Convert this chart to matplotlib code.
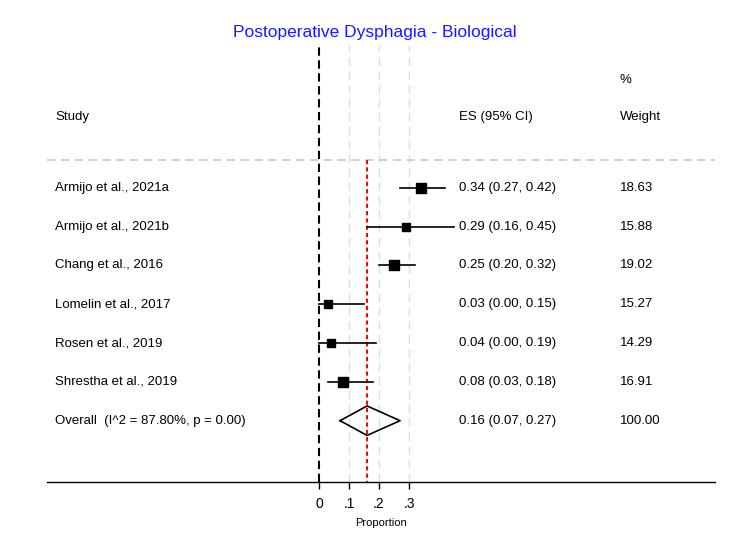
import numpy as np
import matplotlib.pyplot as plt
import matplotlib.transforms as mtransforms

plt.rcParams['font.family'] = ['Liberation Sans', 'DejaVu Sans']

studies = ["Armijo et al., 2021a", "Armijo et al., 2021b", "Chang et al., 2016",
           "Lomelin et al., 2017", "Rosen et al., 2019", "Shrestha et al., 2019"]
es = [0.34, 0.29, 0.25, 0.03, 0.04, 0.08]
lo = [0.27, 0.16, 0.20, 0.00, 0.00, 0.03]
hi = [0.42, 0.45, 0.32, 0.15, 0.19, 0.18]
weight = [18.63, 15.88, 19.02, 15.27, 14.29, 16.91]

overall_label = "Overall  (I^2 = 87.80%, p = 0.00)"
overall_es, overall_lo, overall_hi = 0.16, 0.07, 0.27
overall_weight = 100.00

xticks = [0, 0.1, 0.2, 0.3]
xticklabels = ["0", ".1", ".2", ".3"]

fig = plt.figure(figsize=(7.5, 5.5), dpi=100)
ax = fig.add_axes([47 / 750, 1 - 482 / 550, (715 - 47) / 750, (482 - 45) / 550])
ax.set_xlim(-0.907, 1.32)
ax.set_ylim(7.58, -3.68)

for s in ["top", "left", "right"]:
    ax.spines[s].set_visible(False)
ax.spines["bottom"].set_linewidth(1.0)
ax.set_yticks([])
ax.set_xticks(xticks)
ax.set_xticklabels(xticklabels, fontsize=10)
ax.tick_params(axis="x", length=5, width=1, pad=6)
ax.set_xlabel("Proportion", fontsize=8, labelpad=5)

# grid lines at ticks
for t in xticks[1:]:
    ax.axvline(t, color="#dddddd", lw=1, ls=(0, (6, 4)), zorder=0)
ax.axvline(0, color="black", lw=1.5, ls=(0, (4, 2.2)), zorder=1)

# header separator
ax.axhline(-0.72, color="#c8c8c8", lw=1.2, ls=(0, (5, 3.3)))

# overall estimate line
rows = np.arange(len(studies))
ax.plot([overall_es, overall_es], [-0.72, 7.58], color="red", lw=1.5,
        ls=(0, (2, 1.5)), zorder=2)

for i in rows:
    ax.plot([lo[i], hi[i]], [i, i], color="black", lw=1.2, zorder=3)
    ax.plot(es[i], i, marker="s", color="black", ms=np.sqrt(weight[i]) * 1.6,
            zorder=4)

yo = len(studies)
dx = [overall_lo, overall_es, overall_hi, overall_es, overall_lo]
dy = [yo, yo - 0.38, yo, yo + 0.38, yo]
ax.plot(dx, dy, color="black", lw=1.2, zorder=4)

trans = mtransforms.blended_transform_factory(fig.transFigure, ax.transData)
fs = 9.5
for i in rows:
    ax.text(55 / 750, i, studies[i], transform=trans, fontsize=fs, va="center")
    ax.text(459 / 750, i, f"{es[i]:.2f} ({lo[i]:.2f}, {hi[i]:.2f})",
            transform=trans, fontsize=fs, va="center")
    ax.text(620 / 750, i, f"{weight[i]:.2f}", transform=trans, fontsize=fs,
            va="center")
ax.text(55 / 750, yo, overall_label, transform=trans, fontsize=fs, va="center")
ax.text(459 / 750, yo, f"{overall_es:.2f} ({overall_lo:.2f}, {overall_hi:.2f})",
        transform=trans, fontsize=fs, va="center")
ax.text(620 / 750, yo, f"{overall_weight:.2f}", transform=trans, fontsize=fs,
        va="center")

ax.text(55 / 750, -1.83, "Study", transform=trans, fontsize=fs, va="center")
ax.text(459 / 750, -1.83, "ES (95% CI)", transform=trans, fontsize=fs, va="center")
ax.text(620 / 750, -1.83, "Weight", transform=trans, fontsize=fs, va="center")
ax.text(620 / 750, -2.78, "%", transform=trans, fontsize=fs, va="center")

fig.text(0.5, 1 - 32 / 550, "Postoperative Dysphagia - Biological", color="#1a1aff",
         fontsize=12.5, ha="center", va="center")

fig.savefig("out.png", dpi=100)
